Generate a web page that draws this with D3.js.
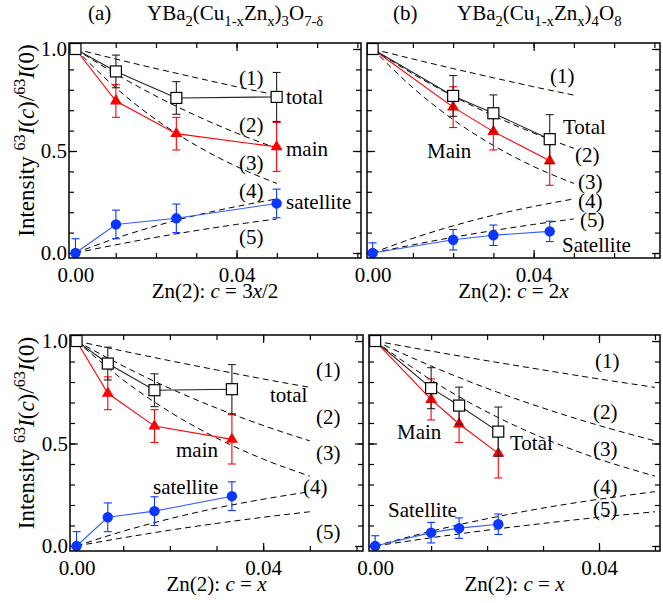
<!DOCTYPE html>
<html>
<head>
<meta charset="utf-8">
<script src="https://cdn.jsdelivr.net/npm/d3@7"></script>
<style>
  body { margin: 0; background: #fff; }
  svg { display: block; }
  svg text { font-family: "Liberation Serif", "Times New Roman", serif; }
</style>
</head>
<body>
<div id="chart"></div>
<script>
// --- data ---
// YBa2(Cu1-xZnx)3O7-d : Zn content x
const y123X        = [0, 0.0067, 0.0167, 0.0333];
const y123Total    = [1.0, 0.89, 0.76, 0.765];
const y123TotalErr = [0, 0.08, 0.08, 0.12];
const y123Main     = [1.0, 0.745, 0.585, 0.52];
const y123MainErr  = [0, 0.08, 0.08, 0.12];
const y123Sat      = [0.0, 0.14, 0.17, 0.243];
const y123SatErr   = [0.07, 0.07, 0.07, 0.07];

// YBa2(Cu1-xZnx)4O8
const y124X        = [0, 0.01, 0.015, 0.022];
const y124Total    = [1.0, 0.77, 0.685, 0.558];
const y124TotalErr = [0, 0.1, 0.09, 0.12];
const y124Main     = [1.0, 0.715, 0.595, 0.452];
const y124MainErr  = [0, 0.1, 0.09, 0.12];
const y124Sat      = [0.0, 0.065, 0.087, 0.106];
const y124SatErr   = [0.05, 0.05, 0.05, 0.05];

// model curves (1)-(5) vs Zn(2) concentration c
const modelC = [0, 0.01, 0.02, 0.03, 0.04, 0.05];
const models = [
  [1, 0.951, 0.904, 0.859, 0.815, 0.774],
  [1, 0.878, 0.769, 0.673, 0.588, 0.513],
  [1, 0.810, 0.654, 0.527, 0.424, 0.341],
  [0, 0.072, 0.133, 0.185, 0.228, 0.265],
  [0, 0.040, 0.077, 0.110, 0.140, 0.167],
];
const modelNames = ["(1)", "(2)", "(3)", "(4)", "(5)"];

const sets = {
  y123: { x: y123X, total: y123Total, totalErr: y123TotalErr, main: y123Main, mainErr: y123MainErr, sat: y123Sat, satErr: y123SatErr },
  y124: { x: y124X, total: y124Total, totalErr: y124TotalErr, main: y124Main, mainErr: y124MainErr, sat: y124Sat, satErr: y124SatErr },
};

const W = 663, H = 603;
const FONT = 21;
const SERIF = '"Liberation Serif", "Times New Roman", serif';
const RED = "#ff0000", BLUE = "#0a36ff", BLUE_LINE = "#2f5dff";
const yDomain = [-0.0245, 1.0294];

const panels = [
  { set: "y123", factor: 1.5, box: [69, 43, 361, 258], xDomain: [-0.0016, 0.0709], yLabels: true,
    xTitle: [["Zn(2): "], ["c", "i"], [" = 3"], ["x", "i"], ["/2"]],
    title: { tag: "(a)", tagX: 88, x: 147,
      parts: [["YBa"], ["2", "sub"], ["(Cu"], ["1-x", "sub"], ["Zn"], ["x", "sub"], [")"], ["3", "sub"], ["O"], ["7-δ", "sub"]] },
    labels: { total: [217, 61], main: [217, 113], sat: [217, 166] }, names: ["total", "main", "satellite"],
    models: [[170, 42], [170, 89], [170, 127], [170, 155], [170, 201]] },
  { set: "y124", factor: 2, box: [367, 43, 660, 258], xDomain: [-0.0014, 0.0714], yLabels: false,
    xTitle: [["Zn(2): "], ["c", "i"], [" = 2"], ["x", "i"]],
    title: { tag: "(b)", tagX: 393, x: 457,
      parts: [["YBa"], ["2", "sub"], ["(Cu"], ["1-x", "sub"], ["Zn"], ["x", "sub"], [")"], ["4", "sub"], ["O"], ["8", "sub"]] },
    labels: { total: [196, 91], main: [60, 115], sat: [195, 209] }, names: ["Total", "Main", "Satellite"],
    models: [[183, 40], [208, 119], [211, 146], [211, 165], [213, 184]] },
  { set: "y123", factor: 1, box: [70, 335, 363, 551], xDomain: [-0.0014, 0.0614], yLabels: true,
    xTitle: [["Zn(2): "], ["c", "i"], [" = "], ["x", "i"]],
    labels: { total: [200, 67], main: [106, 122], sat: [83, 159] }, names: ["total", "main", "satellite"],
    models: [[246, 42], [246, 89], [246, 125], [233, 159], [246, 204]] },
  { set: "y124", factor: 1, box: [369, 335, 660, 551], xDomain: [-0.0011, 0.0509], yLabels: false,
    xTitle: [["Zn(2): "], ["c", "i"], [" = "], ["x", "i"]],
    labels: { total: [141, 115], main: [28, 104], sat: [19, 182] }, names: ["Total", "Main", "Satellite"],
    models: [[226, 33], [224, 84], [224, 121], [224, 159], [224, 181]] },
];

const svg = d3.select("#chart").append("svg").attr("width", W).attr("height", H)
  .attr("font-family", SERIF);

// text with italic / sub / superscript pieces
function rich(sel, parts, size) {
  let shift = 0;
  for (const [t, k = ""] of parts) {
    const target = k.includes("sub") ? size * 0.3 : k.includes("sup") ? -size * 0.4 : 0;
    const ts = sel.append("tspan").text(t);
    if (target !== shift) ts.attr("dy", target - shift);
    shift = target;
    if (k.includes("sub") || k.includes("sup")) ts.attr("font-size", size * 0.7);
    if (k.includes("i")) ts.attr("font-style", "italic");
  }
  return sel;
}

panels.forEach((p, pi) => {
  const d = sets[p.set];
  const [x0, y0, x1, y1] = p.box;
  const x = d3.scaleLinear().domain(p.xDomain).range([x0, x1]);
  const y = d3.scaleLinear().domain(yDomain).range([y1, y0]);
  const g = svg.append("g");

  const clipId = "clip" + pi;
  svg.append("clipPath").attr("id", clipId)
    .append("rect").attr("x", x0).attr("y", y0).attr("width", x1 - x0).attr("height", y1 - y0);

  // ticks (inward, on all four sides)
  const xMinor = d3.range(0, p.xDomain[1] + 1e-9, 0.01);
  const xMajor = [0, 0.04];
  const yMinor = d3.range(0, 1.0001, 0.1);
  const yMajor = [0, 0.5, 1.0];
  const tickStyle = s => {
    s.attr("font-family", SERIF).attr("font-size", FONT);
    s.select(".domain").remove();
    s.selectAll("line").attr("stroke", "#000").attr("stroke-width", 1.2);
    s.selectAll("text").attr("fill", "#000");
  };

  g.append("g").attr("transform", `translate(0,${y1})`)
    .call(d3.axisBottom(x).tickValues(xMinor).tickSize(-5).tickFormat("")).call(tickStyle);
  g.append("g").attr("transform", `translate(0,${y0})`)
    .call(d3.axisTop(x).tickValues(xMinor).tickSize(-5).tickFormat("")).call(tickStyle);
  g.append("g").attr("transform", `translate(0,${y0})`)
    .call(d3.axisTop(x).tickValues(xMajor).tickSize(-8).tickFormat("")).call(tickStyle);
  g.append("g").attr("transform", `translate(0,${y1})`)
    .call(d3.axisBottom(x).tickValues(xMajor).tickSize(-8).tickPadding(9).tickFormat(d3.format(".2f")))
    .call(tickStyle);

  g.append("g").attr("transform", `translate(${x0},0)`)
    .call(d3.axisLeft(y).tickValues(yMinor).tickSize(-5).tickFormat("")).call(tickStyle);
  g.append("g").attr("transform", `translate(${x1},0)`)
    .call(d3.axisRight(y).tickValues(yMinor).tickSize(-5).tickFormat("")).call(tickStyle);
  g.append("g").attr("transform", `translate(${x1},0)`)
    .call(d3.axisRight(y).tickValues(yMajor).tickSize(-8).tickFormat("")).call(tickStyle);
  g.append("g").attr("transform", `translate(${x0},0)`)
    .call(d3.axisLeft(y).tickValues(yMajor).tickSize(-8).tickPadding(2)
      .tickFormat(p.yLabels ? d3.format(".1f") : ""))
    .call(tickStyle);

  // model curves
  const cg = g.append("g").attr("clip-path", `url(#${clipId})`);
  const curve = d3.line().x(c => x(c[0])).y(c => y(c[1])).curve(d3.curveMonotoneX);
  models.forEach(m => {
    cg.append("path").datum(modelC.map((c, i) => [c, m[i]]))
      .attr("d", curve).attr("fill", "none").attr("stroke", "#000")
      .attr("stroke-width", 1).attr("stroke-dasharray", "6,4");
  });
  modelNames.forEach((n, i) => {
    g.append("text").attr("x", x0 + p.models[i][0]).attr("y", y0 + p.models[i][1])
      .attr("font-size", FONT).text(n);
  });

  // data series
  const series = [
    { v: d.sat, e: d.satErr, line: BLUE_LINE, err: BLUE, kind: "circle" },
    { v: d.main, e: d.mainErr, line: RED, err: RED, kind: "triangle" },
    { v: d.total, e: d.totalErr, line: "#222", err: "#222", kind: "square" },
  ];
  const dg = g.append("g").attr("clip-path", `url(#${clipId})`);
  const straight = d3.line().x(q => x(q.c)).y(q => y(q.v));
  series.forEach(s => {
    const pts = d.x.map((xx, i) => ({ c: xx * p.factor, v: s.v[i], e: s.e[i] }));
    dg.append("path").datum(pts).attr("d", straight)
      .attr("fill", "none").attr("stroke", s.line).attr("stroke-width", 1.1);
    pts.filter(q => q.e > 0).forEach(q => {
      const cx = x(q.c);
      dg.append("line").attr("x1", cx).attr("x2", cx).attr("y1", y(q.v - q.e)).attr("y2", y(q.v + q.e))
        .attr("stroke", s.err).attr("stroke-width", 1.1);
      [q.v - q.e, q.v + q.e].forEach(v => dg.append("line")
        .attr("x1", cx - 4).attr("x2", cx + 4).attr("y1", y(v)).attr("y2", y(v))
        .attr("stroke", s.err).attr("stroke-width", 1.1));
    });
    pts.forEach(q => {
      const cx = x(q.c), cy = y(q.v);
      if (s.kind === "circle") {
        dg.append("circle").attr("cx", cx).attr("cy", cy).attr("r", 5.2).attr("fill", BLUE);
      } else if (s.kind === "triangle") {
        dg.append("path").attr("transform", `translate(${cx},${cy})`)
          .attr("d", d3.symbol(d3.symbolTriangle, 62)()).attr("fill", RED);
      } else {
        dg.append("rect").attr("x", cx - 5.5).attr("y", cy - 5.5).attr("width", 11).attr("height", 11)
          .attr("fill", "#fff").attr("stroke", "#000").attr("stroke-width", 1.2);
      }
    });
  });

  // series labels
  [["total", 0], ["main", 1], ["sat", 2]].forEach(([k, i]) => {
    g.append("text").attr("x", x0 + p.labels[k][0]).attr("y", y0 + p.labels[k][1])
      .attr("font-size", FONT).text(p.names[i]);
  });

  // frame
  g.append("rect").attr("x", x0).attr("y", y0).attr("width", x1 - x0).attr("height", y1 - y0)
    .attr("fill", "none").attr("stroke", "#000").attr("stroke-width", 1.5);

  // axis title
  rich(g.append("text").attr("x", (x0 + x1) / 2).attr("y", y1 + 40)
    .attr("text-anchor", "middle").attr("font-size", FONT), p.xTitle, FONT);

  if (p.yLabels) {
    const cy = (y0 + y1) / 2 - 10;
    rich(g.append("text").attr("transform", `translate(34,${cy}) rotate(-90)`)
      .attr("text-anchor", "middle").attr("font-size", 23),
      [["Intensity "], ["63", "sup"], ["I", "i"], ["("], ["c", "i"], [")/"], ["63", "sup"], ["I", "i"], ["(0)"]], 23);
  }

  if (p.title) {
    svg.append("text").attr("x", p.title.tagX).attr("y", 20).attr("font-size", FONT).text(p.title.tag);
    rich(svg.append("text").attr("x", p.title.x).attr("y", 20).attr("font-size", FONT), p.title.parts, FONT);
  }
});
</script>
</body>
</html>
